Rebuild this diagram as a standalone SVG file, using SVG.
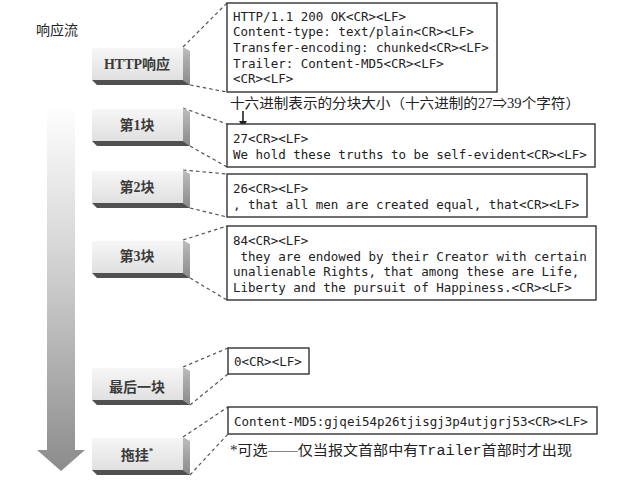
<svg xmlns="http://www.w3.org/2000/svg" width="634" height="484" viewBox="0 0 634 484">
<style>
.mono{font-family:"DejaVu Sans Mono","Liberation Mono",monospace;font-size:12.5px;fill:#222}
.cn{font-family:"Liberation Serif","Noto Sans CJK SC",serif;font-size:14px;fill:#222}
.btn{font-family:"Liberation Serif","Noto Sans CJK SC",serif;font-size:14px;font-weight:bold;fill:#3a3a3a;text-anchor:middle}
.box{fill:#fff;stroke:#333;stroke-width:1.4}
.dash{fill:none;stroke:#555;stroke-width:1.2;stroke-dasharray:3.5,3}
</style>
<defs>
<linearGradient id="face" x1="0" y1="0" x2="0" y2="1">
<stop offset="0" stop-color="#f7f7f7"/><stop offset="1" stop-color="#e0e0e0"/>
</linearGradient>
<linearGradient id="side" x1="0" y1="0" x2="0" y2="1">
<stop offset="0" stop-color="#bdbdbd"/><stop offset="1" stop-color="#8a8a8a"/>
</linearGradient>
<linearGradient id="flow" gradientUnits="userSpaceOnUse" x1="0" y1="105" x2="0" y2="470">
<stop offset="0" stop-color="#ffffff"/><stop offset="0.45" stop-color="#d0d0d0"/><stop offset="1" stop-color="#8c8c8c"/>
</linearGradient>
<marker id="ah" viewBox="0 0 10 10" refX="9" refY="5" markerWidth="8" markerHeight="8" orient="auto" markerUnits="userSpaceOnUse">
<path d="M0,0 L10,5 L0,10 z" fill="#222"/>
</marker>
<g id="button">
<rect x="0" y="0" width="91" height="33" fill="url(#face)"/>
<path d="M0,0.5 H91" stroke="#fff" stroke-width="1"/>
<polygon points="91,0 98,4 98,38 91,33" fill="url(#side)"/>
<polygon points="0,33 91,33 98,38 5,38" fill="#505050"/>
</g>
</defs>

<text id="title" class="cn" x="36" y="35">响应流</text>

<g id="flow-arrow">
<polygon points="47,108 75,108 75,450 85,450 61,471 37,450 47,450" fill="url(#flow)"/>
</g>

<g id="connectors">
<path class="dash" d="M183,47 L227,3"/>
<path class="dash" d="M190,85 L227,92"/>
<path class="dash" d="M183,108 L227,124"/>
<path class="dash" d="M190,146 L227,167"/>
<path class="dash" d="M183,170 L227,174"/>
<path class="dash" d="M190,208 L227,217"/>
<path class="dash" d="M183,240 L227,226"/>
<path class="dash" d="M190,278 L227,300"/>
<path class="dash" d="M183,367 L228,348"/>
<path class="dash" d="M190,405 L228,374"/>
<path class="dash" d="M183,437 L228,407"/>
<path class="dash" d="M190,475 L228,434"/>
<line x1="243" y1="111" x2="243" y2="128" stroke="#222" stroke-width="1.6" marker-end="url(#ah)"/>
</g>

<g id="btn-http"><use href="#button" x="92" y="47"/><text class="btn" x="137" y="69">HTTP响应</text></g>
<g id="btn-1"><use href="#button" x="92" y="108"/><text class="btn" x="137" y="130">第1块</text></g>
<g id="btn-2"><use href="#button" x="92" y="170"/><text class="btn" x="137" y="192">第2块</text></g>
<g id="btn-3"><use href="#button" x="92" y="240"/><text class="btn" x="137" y="261">第3块</text></g>
<g id="btn-last"><use href="#button" x="92" y="367"/><text class="btn" x="137" y="392">最后一块</text></g>
<g id="btn-trailer"><use href="#button" x="92" y="437"/><text class="btn" x="137" y="460">拖挂<tspan font-size="9" dy="-6">*</tspan></text></g>

<g id="box-http">
<rect class="box" x="227" y="3" width="270" height="89"/>
<text class="mono" x="233" y="20.5">HTTP/1.1 200 OK&lt;CR&gt;&lt;LF&gt;</text>
<text class="mono" x="233" y="36.2">Content-type: text/plain&lt;CR&gt;&lt;LF&gt;</text>
<text class="mono" x="233" y="51.9">Transfer-encoding: chunked&lt;CR&gt;&lt;LF&gt;</text>
<text class="mono" x="233" y="67.6">Trailer: Content-MD5&lt;CR&gt;&lt;LF&gt;</text>
<text class="mono" x="233" y="83.3">&lt;CR&gt;&lt;LF&gt;</text>
</g>

<g id="hex-note">
<text class="cn" x="230" y="108" textLength="350" lengthAdjust="spacingAndGlyphs">十六进制表示的分块大小（十六进制的27⇒39个字符）</text>
</g>

<g id="box-1">
<rect class="box" x="227" y="124" width="368" height="43"/>
<text class="mono" x="233" y="142.5">27&lt;CR&gt;&lt;LF&gt;</text>
<text class="mono" x="233" y="158.5">We hold these truths to be self-evident&lt;CR&gt;&lt;LF&gt;</text>
</g>

<g id="box-2">
<rect class="box" x="227" y="174" width="360" height="43"/>
<text class="mono" x="233" y="192.5">26&lt;CR&gt;&lt;LF&gt;</text>
<text class="mono" x="233" y="208.5">, that all men are created equal, that&lt;CR&gt;&lt;LF&gt;</text>
</g>

<g id="box-3">
<rect class="box" x="227" y="226" width="369" height="74"/>
<text class="mono" x="233" y="244.5">84&lt;CR&gt;&lt;LF&gt;</text>
<text class="mono" x="233" y="260.5" xml:space="preserve"> they are endowed by their Creator with certain</text>
<text class="mono" x="233" y="276">unalienable Rights, that among these are Life,</text>
<text class="mono" x="233" y="291.5">Liberty and the pursuit of Happiness.&lt;CR&gt;&lt;LF&gt;</text>
</g>

<g id="box-last">
<rect class="box" x="228" y="348" width="81" height="26"/>
<text class="mono" x="234" y="366">0&lt;CR&gt;&lt;LF&gt;</text>
</g>

<g id="box-trailer">
<rect class="box" x="228" y="407" width="369" height="27"/>
<text class="mono" x="234" y="425.5">Content-MD5:gjqei54p26tjisgj3p4utjgrj53&lt;CR&gt;&lt;LF&gt;</text>
</g>

<g id="footnote">
<text class="cn" x="230" y="455" textLength="342" lengthAdjust="spacingAndGlyphs">*可选——仅当报文首部中有<tspan font-family="Liberation Mono, monospace">Trailer</tspan>首部时才出现</text>
</g>
</svg>
